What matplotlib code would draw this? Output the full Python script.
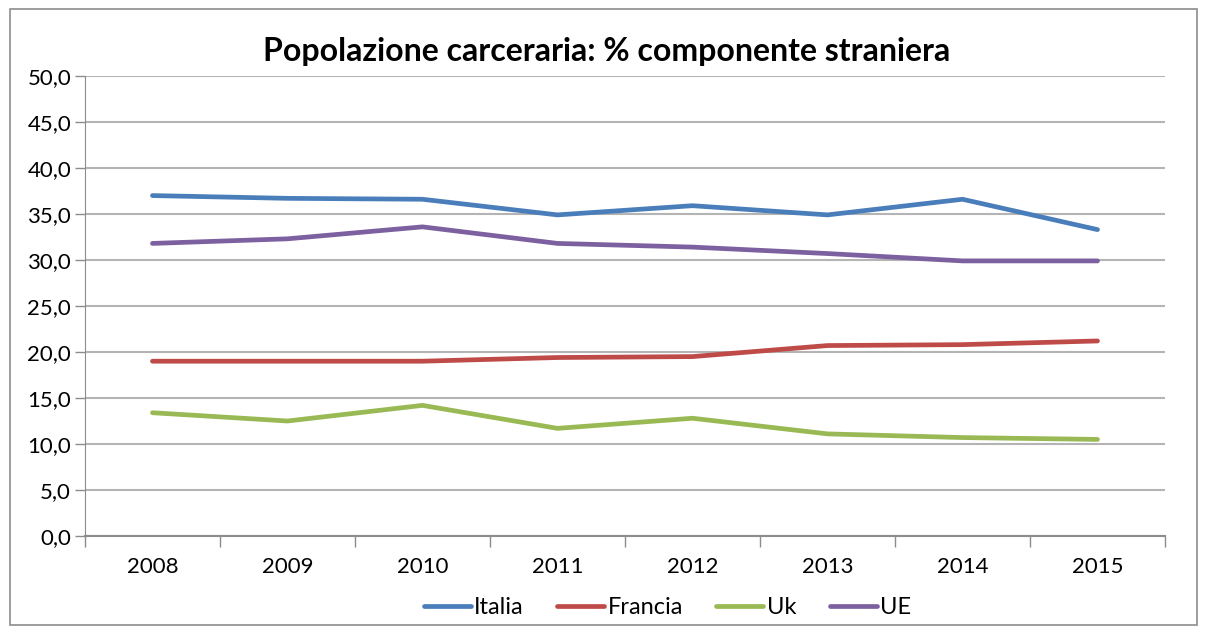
import matplotlib
matplotlib.use("Agg")
import matplotlib.pyplot as plt
from matplotlib.patches import Rectangle

plt.rcParams["font.family"] = ["Lato", "DejaVu Sans"]

YEARS   = ["2008", "2009", "2010", "2011", "2012", "2013", "2014", "2015"]
ITALIA  = [37.0, 36.7, 36.6, 34.9, 35.9, 34.9, 36.6, 33.3]
FRANCIA = [19.0, 19.0, 19.0, 19.4, 19.5, 20.7, 20.8, 21.2]
UK      = [13.4, 12.5, 14.2, 11.7, 12.8, 11.1, 10.7, 10.5]
UE      = [31.8, 32.3, 33.6, 31.8, 31.4, 30.7, 29.9, 29.9]

SERIES = [("Italia", ITALIA, "#4a7ebb"), ("Francia", FRANCIA, "#be4b48"),
          ("Uk", UK, "#98b954"), ("UE", UE, "#7d60a0")]

fig = plt.figure(figsize=(12.07, 6.33), dpi=100)
ax = fig.add_axes([0.0704, 0.1532, 0.8948, 0.7268])

# cornice esterna del grafico
fig.patches.append(Rectangle((0.008, 0.012), 0.984, 0.974, transform=fig.transFigure,
                             fill=False, edgecolor="#8c8c8c", linewidth=1.2))

x = list(range(len(YEARS)))
for name, vals, col in SERIES:
    ax.plot(x, vals, color=col, linewidth=3.4, label=name, solid_capstyle="round")

ax.set_xlim(-0.5, len(YEARS) - 0.5)
ax.set_ylim(0, 50)
yt = [i * 5 for i in range(11)]
ax.set_yticks(yt)
ax.set_yticklabels([f"{v:.1f}".replace(".", ",") for v in yt], fontsize=16)
ax.set_xticks(x)
ax.set_xticklabels(YEARS, fontsize=16)
ax.set_xticks([i - 0.5 for i in range(len(YEARS) + 1)], minor=True)
ax.tick_params(axis="x", which="major", length=0, pad=15)
ax.tick_params(axis="x", which="minor", length=8, color="#8c8c8c", width=1)
ax.tick_params(axis="y", length=7, color="#8c8c8c", width=1, pad=3)

ax.grid(axis="y", color="#b4b4b4", linewidth=1.5)
ax.set_axisbelow(True)
for s in ["top", "right"]:
    ax.spines[s].set_visible(False)
ax.spines["left"].set_color("#8c8c8c")
ax.spines["bottom"].set_color("#8c8c8c")
ax.spines["bottom"].set_linewidth(1.5)

fig.text(0.503, 0.918, "Popolazione carceraria: % componente straniera",
         ha="center", va="center", fontsize=23, fontweight="bold")

fig.legend(loc="center", bbox_to_anchor=(0.553, 0.04), ncol=4, frameon=False,
           fontsize=17, handlelength=2.0, handletextpad=0.15, columnspacing=1.4)

fig.savefig("out.png", dpi=100)
